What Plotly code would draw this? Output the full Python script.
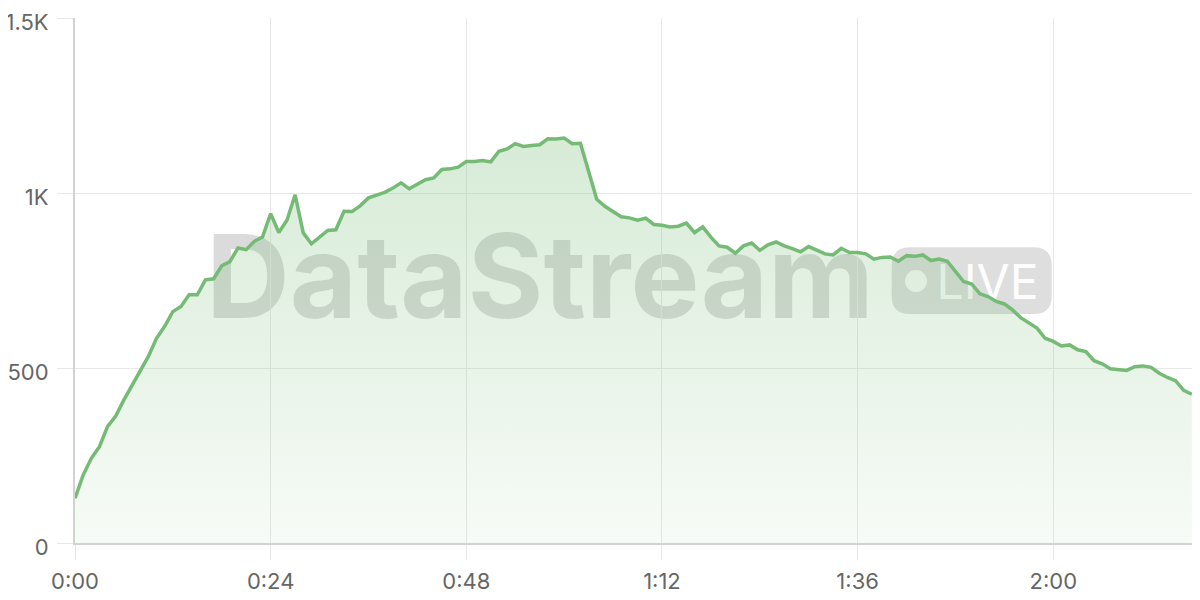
import plotly.graph_objects as go

# minutes since start (one sample per minute)
minutes = list(range(138))
viewers = [
    128, 194, 242, 275, 333, 363, 409, 452, 495, 533,
    585, 619, 661, 676, 709, 709, 752, 755, 792, 804,
    843, 838, 862, 874, 941, 887, 922, 995, 886, 855,
    874, 893, 895, 948, 947, 964, 986, 995, 1002, 1014,
    1029, 1012, 1024, 1038, 1043, 1067, 1069, 1074, 1090, 1090,
    1093, 1089, 1119, 1126, 1141, 1133, 1136, 1138, 1155, 1154,
    1157, 1141, 1142, 1062, 982, 962, 948, 932, 929, 922,
    928, 910, 908, 903, 905, 914, 887, 903, 874, 849,
    845, 828, 849, 857, 836, 852, 860, 849, 841, 832,
    847, 836, 826, 823, 842, 830, 830, 826, 811, 816,
    817, 805, 821, 819, 823, 807, 811, 805, 776, 747,
    740, 712, 704, 690, 683, 666, 644, 630, 614, 585,
    576, 563, 566, 552, 547, 521, 512, 498, 495, 493,
    504, 506, 502, 485, 473, 464, 436, 425,
]
x_tick_vals = [0, 24, 48, 72, 96, 120]
x_tick_text = ["0:00", "0:24", "0:48", "1:12", "1:36", "2:00"]
y_tick_vals = [0, 500, 1000, 1500]
y_tick_text = ["0", "500", "1K", "1.5K"]

LINE = "rgb(117,186,117)"
GRID = "#e8e8e8"
AXIS = "#d2d2d2"
FONT = "Inter"

fig = go.Figure()
fig.add_trace(go.Scatter(
    x=minutes, y=viewers, mode="lines",
    line=dict(color=LINE, width=3.5),
    fill="tozeroy",
    fillgradient=dict(
        type="vertical",
        start=0, stop=1200,
        colorscale=[[0, "rgba(117,186,117,0.06)"], [1, "rgba(117,186,117,0.30)"]],
    ),
    hoverinfo="skip",
))

# page offset (default body margin) and plot-area geometry in window pixels
OFF = 8
L, R, T, B = 75, 1200, 18, 543
W, H = R - L, B - T
def px(x):
    return (x - L) / W
def py(y):
    return (B - y) / H

shapes = []
# watermark word
shapes.append(dict(
    type="rect", xref="paper", yref="paper",
    x0=px(200), x1=px(880), y0=py(330), y1=py(213),
    line=dict(width=0), fillcolor="rgba(0,0,0,0)", layer="below",
    label=dict(text="<b>DataStream</b>", textposition="middle center",
               font=dict(family=FONT, size=116, color="rgba(0,0,0,0.14)")),
))
# LIVE badge rounded rect
bx0, bx1, by0, by1 = px(891.7), px(1051.7), py(314), py(247.3)
rx, ry = 18 / W, 18 / H
path = (f"M {bx0+rx},{by0} L {bx1-rx},{by0} Q {bx1},{by0} {bx1},{by0+ry} "
        f"L {bx1},{by1-ry} Q {bx1},{by1} {bx1-rx},{by1} "
        f"L {bx0+rx},{by1} Q {bx0},{by1} {bx0},{by1-ry} "
        f"L {bx0},{by0+ry} Q {bx0},{by0} {bx0+rx},{by0} Z")
shapes.append(dict(type="path", xref="paper", yref="paper", path=path,
                   line=dict(width=0), fillcolor="rgba(0,0,0,0.13)", layer="below"))
# dot
shapes.append(dict(type="circle", xref="paper", yref="paper",
                   x0=px(905), x1=px(927), y0=py(292), y1=py(270),
                   line=dict(width=0), fillcolor="rgba(255,255,255,0.9)", layer="below"))
# LIVE text
shapes.append(dict(
    type="rect", xref="paper", yref="paper",
    x0=px(935), x1=px(1040), y0=py(310), y1=py(250),
    line=dict(width=0), fillcolor="rgba(0,0,0,0)", layer="below",
    label=dict(text="LIVE", textposition="middle center",
               font=dict(family=FONT, size=48, color="rgba(255,255,255,0.97)")),
))

tickfont = dict(family=FONT, size=22, color="#666666")
fig.update_layout(
    width=1200 - OFF, height=600 - OFF,
    margin=dict(l=L - OFF, r=1200 - R, t=T - OFF, b=600 - B),
    paper_bgcolor="white", plot_bgcolor="white",
    showlegend=False,
    font=dict(family=FONT, size=22, color="#666666"),
    shapes=shapes,
    xaxis=dict(
        range=[0, 138], tickvals=x_tick_vals, ticktext=x_tick_text,
        showgrid=True, gridcolor=GRID, gridwidth=1,
        showline=True, linecolor=AXIS, linewidth=2,
        ticks="outside", ticklen=15, tickcolor=GRID, tickwidth=1,
        zeroline=False, ticklabelstandoff=3, automargin=False,
        ticklabeloverflow="allow",
        tickfont=tickfont,
    ),
    yaxis=dict(
        range=[0, 1500], tickvals=y_tick_vals, ticktext=y_tick_text,
        showgrid=True, gridcolor=GRID, gridwidth=1,
        showline=True, linecolor=AXIS, linewidth=2,
        ticks="outside", ticklen=16, tickcolor=GRID, tickwidth=1,
        zeroline=False, ticklabelstandoff=4, automargin=False,
        ticklabeloverflow="allow", ticklabelshift=4,
        tickfont=tickfont,
    ),
)

fig.write_html("out.html")
